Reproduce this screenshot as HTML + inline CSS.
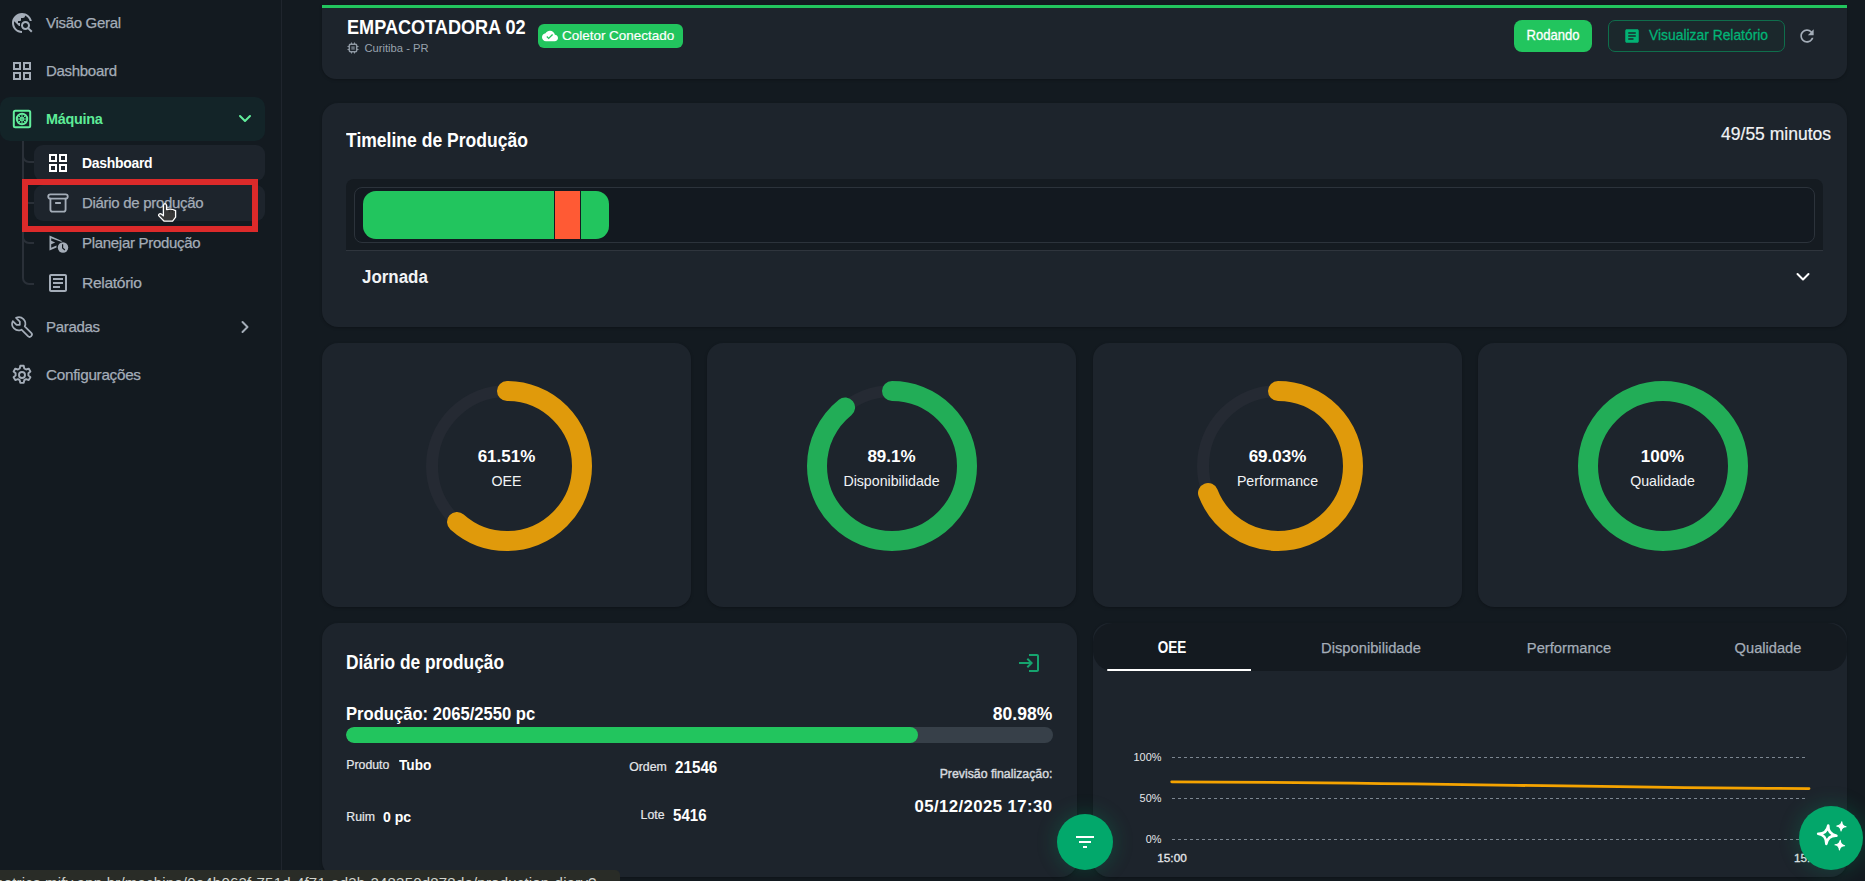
<!DOCTYPE html>
<html><head><meta charset="utf-8">
<style>
*{box-sizing:border-box;margin:0;padding:0}
html,body{width:1865px;height:881px;overflow:hidden;background:#131a20;font-family:"Liberation Sans",sans-serif;color:#e8eaed}
.abs{position:absolute}
.t{position:absolute;white-space:nowrap;line-height:1}
</style></head><body>
<div class="abs" style="left:0;top:0;width:281px;height:881px;background:#131a20"></div>
<div class="abs" style="left:281px;top:0;width:1px;height:881px;background:#1f252d"></div>
<svg class="abs" style="left:10px;top:11px" width="24" height="24" viewBox="0 0 24 24" fill="#a4adb8"><path d="M19.3 16.9c.4-.7.7-1.5.7-2.4 0-2.5-2-4.5-4.5-4.5S11 12 11 14.5s2 4.5 4.5 4.5c.9 0 1.7-.3 2.4-.7l3.2 3.2 1.4-1.4-3.2-3.2zm-3.8.1c-1.4 0-2.5-1.1-2.5-2.5s1.1-2.5 2.5-2.5 2.5 1.1 2.5 2.5-1.1 2.5-2.5 2.5zM12 20v2C6.48 22 2 17.52 2 12S6.48 2 12 2c4.84 0 8.87 3.44 9.8 8h-2.07c-.64-2.46-2.4-4.47-4.73-5.41V5c0 1.1-.9 2-2 2h-2v2c0 .55-.45 1-1 1H8v2h2v3H9l-4.79-4.79C4.08 10.79 4 11.38 4 12c0 4.41 3.59 8 8 8z"/></svg>
<div class="t" style="top:15.30px;font-size:15px;color:#a4adb8;font-weight:normal;left:46px;letter-spacing:-0.3px;-webkit-text-stroke:0.25px #a4adb8;">Visão Geral</div>
<svg class="abs" style="left:10px;top:59px" width="24" height="24" viewBox="0 0 24 24" fill="#a4adb8"><path d="M3 3v8h8V3H3zm6 6H5V5h4v4zm-6 4v8h8v-8H3zm6 6H5v-4h4v4zm4-16v8h8V3h-8zm6 6h-4V5h4v4zm-6 4v8h8v-8h-8zm6 6h-4v-4h4v4z"/></svg>
<div class="t" style="top:62.80px;font-size:15px;color:#a4adb8;font-weight:normal;left:46px;letter-spacing:-0.3px;-webkit-text-stroke:0.25px #a4adb8;">Dashboard</div>
<div class="abs" style="left:0;top:97px;width:265px;height:44px;background:#132428;border-radius:10px"></div>
<svg class="abs" style="left:12px;top:109px" width="20" height="20" viewBox="0 0 20 20" fill="none" stroke="#62ee9c"><rect x="1.8" y="1.8" width="16.4" height="16.4" rx="1.5" stroke-width="2"/><circle cx="10" cy="10" r="5.2" stroke-width="2"/><circle cx="10" cy="10" r="1.3" stroke-width="1.4"/><path d="M10 5.5v3M10 11.5v3M5.5 10h3M11.5 10h3M6.8 6.8l2 2M11.2 11.2l2 2M13.2 6.8l-2 2M8.8 11.2l-2 2" stroke-width="1"/></svg>
<div class="t" style="top:110.80px;font-size:15px;color:#5eec98;font-weight:bold;left:46px;transform:scaleX(0.96);transform-origin:left center;letter-spacing:-0.3px;">Máquina</div>
<svg class="abs" style="left:238px;top:113px" width="14" height="12" viewBox="0 0 14 12" fill="none" stroke="#62ee9c" stroke-width="2" stroke-linecap="round" stroke-linejoin="round"><path d="M2 3l5 5 5-5"/></svg>
<svg class="abs" style="left:0;top:141px" width="40" height="150" viewBox="0 0 40 150" fill="none" stroke="#2a3038" stroke-width="2"><path d="M23 0v137a6 6 0 0 0 6 6h5M23 15a6 6 0 0 0 6 6h5M23 56a6 6 0 0 0 6 6h5M23 96a6 6 0 0 0 6 6h5"/></svg>
<div class="abs" style="left:34px;top:145px;width:231px;height:36px;background:#1d242c;border-radius:9px"></div>
<svg class="abs" style="left:46px;top:151px" width="24" height="24" viewBox="0 0 24 24" fill="#fff"><path d="M3 3v8h8V3H3zm6 6H5V5h4v4zm-6 4v8h8v-8H3zm6 6H5v-4h4v4zm4-16v8h8V3h-8zm6 6h-4V5h4v4zm-6 4v8h8v-8h-8zm6 6h-4v-4h4v4z"/></svg>
<div class="t" style="top:154.80px;font-size:15px;color:#fff;font-weight:bold;left:82px;transform:scaleX(0.93);transform-origin:left center;letter-spacing:-0.3px;">Dashboard</div>
<div class="abs" style="left:34px;top:185px;width:231px;height:36px;background:#1d242c;border-radius:9px"></div>
<svg class="abs" style="left:45px;top:190px" width="26" height="26" viewBox="0 0 24 24" fill="none" stroke="#a4adb8" stroke-width="1.7" stroke-linecap="round" stroke-linejoin="round"><path d="M3 4m0 2a2 2 0 0 1 2 -2h14a2 2 0 0 1 2 2v0a2 2 0 0 1 -2 2h-14a2 2 0 0 1 -2 -2z"/><path d="M5 8v10a2 2 0 0 0 2 2h10a2 2 0 0 0 2 -2v-10"/><path d="M10 12l4 0"/></svg>
<div class="t" style="top:194.80px;font-size:15px;color:#a4adb8;font-weight:normal;left:82px;letter-spacing:-0.3px;-webkit-text-stroke:0.25px #a4adb8;">Diário de produção</div>
<svg class="abs" style="left:46px;top:231px" width="24" height="24" viewBox="0 0 24 24" fill="#a4adb8"><path d="M3.5 4.5 L16.5 10.2 L15 10.8 L5.2 7.2 V9.8 L9.2 11.5 L5.2 13.2 V16.8 L10.5 14.6 V16.4 L3.5 19.5Z"/><circle cx="17" cy="16.5" r="5.2"/><path d="M16.6 13.3v3.6l2.3 2.1" stroke="#131a20" stroke-width="1.2" fill="none"/></svg>
<div class="t" style="top:234.80px;font-size:15px;color:#a4adb8;font-weight:normal;left:82px;letter-spacing:-0.3px;-webkit-text-stroke:0.25px #a4adb8;">Planejar Produção</div>
<svg class="abs" style="left:46px;top:271px" width="24" height="24" viewBox="0 0 24 24" fill="#a4adb8"><path d="M19 5v14H5V5h14m0-2H5c-1.1 0-2 .9-2 2v14c0 1.1.9 2 2 2h14c1.1 0 2-.9 2-2V5c0-1.1-.9-2-2-2z M14 17H7v-2h7v2zm3-4H7v-2h10v2zm0-4H7V7h10v2z"/></svg>
<div class="t" style="top:274.80px;font-size:15px;color:#a4adb8;font-weight:normal;left:82px;transform:scaleX(1.04);transform-origin:left center;letter-spacing:-0.3px;-webkit-text-stroke:0.25px #a4adb8;">Relatório</div>
<svg class="abs" style="left:9px;top:314px" width="26" height="26" viewBox="0 0 24 24" fill="none" stroke="#a4adb8" stroke-width="1.6" stroke-linecap="round" stroke-linejoin="round"><path d="M7 10h3v-3l-3.5 -3.5a6 6 0 0 1 8 8l6 6a2 2 0 0 1 -3 3l-6 -6a6 6 0 0 1 -8 -8l3.5 3.5"/></svg>
<div class="t" style="top:318.80px;font-size:15px;color:#a4adb8;font-weight:normal;left:46px;letter-spacing:-0.3px;-webkit-text-stroke:0.25px #a4adb8;">Paradas</div>
<svg class="abs" style="left:239px;top:320px" width="12" height="14" viewBox="0 0 12 14" fill="none" stroke="#a4adb8" stroke-width="2" stroke-linecap="round" stroke-linejoin="round"><path d="M3.5 2l5 5-5 5"/></svg>
<svg class="abs" style="left:10px;top:363px" width="24" height="24" viewBox="0 0 24 24" fill="none" stroke="#a4adb8" stroke-width="1.9" stroke-linejoin="round"><path d="M10.3 2.8h3.4l.6 2.7 1.8 1 2.6-.9 1.7 2.9-2 1.8v2.1l2 1.8-1.7 2.9-2.6-.9-1.8 1-.6 2.7h-3.4l-.6-2.7-1.8-1-2.6.9-1.7-2.9 2-1.8v-2.1l-2-1.8 1.7-2.9 2.6.9 1.8-1z"/><circle cx="12" cy="12" r="3"/></svg>
<div class="t" style="top:366.80px;font-size:15px;color:#a4adb8;font-weight:normal;left:46px;transform:scaleX(1.02);transform-origin:left center;letter-spacing:-0.3px;-webkit-text-stroke:0.25px #a4adb8;">Configurações</div>
<div class="abs" style="left:22px;top:179px;width:236px;height:53px;border:6px solid #dc2a2a"></div>
<svg class="abs" style="left:150px;top:195px" width="35" height="35" viewBox="150 195 35 35"><path d="M163.4 205.2Q165 202 166.6 205.2L166.6 209.6Q171.5 208.3 175.6 210.6L175.6 217.2L172.6 221.2L164.2 221.2L158.6 215.6Q158.6 213.2 161.2 213.9L163.4 215.8Z" fill="#383838" stroke="#fff" stroke-width="1.3" stroke-linejoin="round"/><path d="M169.3 210v2.5M172.3 210.3v2.5" stroke="#222" stroke-width="0.8"/></svg>
<div class="abs" style="left:322px;top:5px;width:1525px;height:74px;background:#1d242c;border-radius:0 0 14px 14px;box-shadow:0 1px 3px rgba(0,0,0,.25);"></div>
<div class="abs" style="left:322px;top:5px;width:1525px;height:3px;background:#22c55e"></div>
<div class="t" style="top:16.87px;font-size:20px;color:#fff;font-weight:bold;left:346.5px;transform:scaleX(0.905);transform-origin:left center;">EMPACOTADORA 02</div>
<svg class="abs" style="left:345px;top:40px" width="16" height="16" viewBox="345 40 16 16" fill="none" stroke="#8e98a3"><rect x="349.3" y="44.3" width="7.4" height="7.4" rx="1.2" stroke-width="1.5"/><rect x="351.3" y="46.3" width="3.4" height="3.4" fill="#66707b" stroke="none"/><path d="M351.5 42.5v1.5M354.5 42.5v1.5M351.5 52v1.5M354.5 52v1.5M347.5 46.5h1.5M347.5 49.5h1.5M357 46.5h1.5M357 49.5h1.5" stroke-width="1"/></svg>
<div class="t" style="top:43.12px;font-size:11.2px;color:#98a2ad;font-weight:normal;left:364.5px;">Curitiba - PR</div>
<div class="abs" style="left:538px;top:24px;width:145px;height:24px;background:#22c55e;border-radius:6px"></div>
<svg class="abs" style="left:542px;top:28px" width="16" height="16" viewBox="0 0 24 24" fill="#fff"><path d="M19.35 10.04C18.67 6.59 15.64 4 12 4 9.11 4 6.6 5.64 5.35 8.04 2.34 8.36 0 10.91 0 14c0 3.31 2.69 6 6 6h13c2.76 0 5-2.24 5-5 0-2.64-2.05-4.78-4.65-4.96zM10 17l-3.5-3.5 1.41-1.41L10 14.17 15.18 9l1.41 1.41L10 17z"/></svg>
<div class="t" style="top:28.69px;font-size:13.6px;color:#fff;font-weight:normal;left:562px;transform:scaleX(0.99);transform-origin:left center;-webkit-text-stroke:0.2px #fff;">Coletor Conectado</div>
<div class="abs" style="left:1514px;top:20px;width:78px;height:32px;background:#22c55e;border-radius:8px"></div>
<div class="t" style="top:28.03px;font-size:14.5px;color:#fff;font-weight:normal;left:1553px;transform:translateX(-50%) scaleX(0.9);-webkit-text-stroke:0.3px #fff;">Rodando</div>
<div class="abs" style="left:1608px;top:20px;width:177px;height:32px;background:#1b282c;border:1px solid #0f6e4c;border-radius:7px"></div>
<svg class="abs" style="left:1623px;top:27px" width="18" height="18" viewBox="0 0 24 24" fill="#02b274"><path d="M19 3H5c-1.1 0-2 .9-2 2v14c0 1.1.9 2 2 2h14c1.1 0 2-.9 2-2V5c0-1.1-.9-2-2-2zm-5 14H7v-2h7v2zm3-4H7v-2h10v2zm0-4H7V7h10v2z"/></svg>
<div class="t" style="top:27.93px;font-size:14.5px;color:#02b476;font-weight:normal;left:1649.3px;transform:scaleX(0.955);transform-origin:left center;-webkit-text-stroke:0.3px #02b476;">Visualizar Relatório</div>
<svg class="abs" style="left:1797px;top:26px" width="20" height="20" viewBox="0 0 24 24" fill="#a4adb8"><path d="M17.65 6.35C16.2 4.9 14.21 4 12 4c-4.42 0-7.99 3.58-7.99 8s3.57 8 7.99 8c3.73 0 6.84-2.55 7.73-6h-2.08c-.82 2.33-3.04 4-5.65 4-3.31 0-6-2.69-6-6s2.69-6 6-6c1.66 0 3.14.69 4.22 1.78L13 11h7V4l-2.35 2.35z"/></svg>
<div class="abs" style="left:322px;top:103px;width:1525px;height:224px;background:#1d242c;border-radius:16px;box-shadow:0 1px 3px rgba(0,0,0,.25);"></div>
<div class="t" style="top:129.87px;font-size:20px;color:#fff;font-weight:bold;left:346.3px;transform:scaleX(0.877);transform-origin:left center;">Timeline de Produção</div>
<div class="t" style="top:125.99px;font-size:17.5px;color:#f1f3f5;font-weight:normal;right:34px;-webkit-text-stroke:0.2px #f1f3f5;">49/55 minutos</div>
<div class="abs" style="left:346px;top:179px;width:1477px;height:71px;background:#151b21;border-radius:8px 8px 0 0"></div>
<div class="abs" style="left:346px;top:250px;width:1477px;height:1px;background:#2f353d"></div>
<div class="abs" style="left:354px;top:187px;width:1461px;height:56px;background:#131920;border:1px solid #2c333b;border-radius:8px"></div>
<div class="abs" style="left:363px;top:191px;width:246px;height:48px;background:#22c55e;border-radius:13px;overflow:hidden"><div class="abs" style="left:191px;top:0;width:27px;height:48px;background:#ff5a34;border-left:1.5px solid #151b21;border-right:1.5px solid #151b21"></div></div>
<div class="t" style="top:267.76px;font-size:18px;color:#f1f3f5;font-weight:bold;left:362.2px;transform:scaleX(0.94);transform-origin:left center;">Jornada</div>
<svg class="abs" style="left:1794px;top:269px" width="18" height="16" viewBox="0 0 18 16" fill="none" stroke="#fff" stroke-width="2" stroke-linecap="round" stroke-linejoin="round"><path d="M3.5 5l5.5 5.5 5.5-5.5"/></svg>
<div class="abs" style="left:322px;top:343px;width:369px;height:264px;background:#1d242c;border-radius:16px;box-shadow:0 1px 3px rgba(0,0,0,.25);"></div>
<svg class="abs" style="left:406.5px;top:366px" width="200" height="200" viewBox="0 0 200 200"><circle cx="100" cy="100" r="75" fill="none" stroke="#252a33" stroke-width="12"/><circle cx="100" cy="100" r="75" fill="none" stroke="#e09a0b" stroke-width="20" stroke-linecap="round" stroke-dasharray="289.86 471.24" transform="rotate(-90 100 100)"/></svg>
<div class="t" style="top:447.51px;font-size:17px;color:#fff;font-weight:bold;left:506.5px;transform:translateX(-50%);">61.51%</div>
<div class="t" style="top:474.18px;font-size:14.2px;color:#f1f3f5;font-weight:normal;left:506.5px;transform:translateX(-50%);">OEE</div>
<div class="abs" style="left:707px;top:343px;width:369px;height:264px;background:#1d242c;border-radius:16px;box-shadow:0 1px 3px rgba(0,0,0,.25);"></div>
<svg class="abs" style="left:791.5px;top:366px" width="200" height="200" viewBox="0 0 200 200"><circle cx="100" cy="100" r="75" fill="none" stroke="#252a33" stroke-width="12"/><circle cx="100" cy="100" r="75" fill="none" stroke="#22ad57" stroke-width="20" stroke-linecap="round" stroke-dasharray="419.87 471.24" transform="rotate(-90 100 100)"/></svg>
<div class="t" style="top:447.51px;font-size:17px;color:#fff;font-weight:bold;left:891.5px;transform:translateX(-50%);">89.1%</div>
<div class="t" style="top:474.18px;font-size:14.2px;color:#f1f3f5;font-weight:normal;left:891.5px;transform:translateX(-50%);">Disponibilidade</div>
<div class="abs" style="left:1093px;top:343px;width:369px;height:264px;background:#1d242c;border-radius:16px;box-shadow:0 1px 3px rgba(0,0,0,.25);"></div>
<svg class="abs" style="left:1177.5px;top:366px" width="200" height="200" viewBox="0 0 200 200"><circle cx="100" cy="100" r="75" fill="none" stroke="#252a33" stroke-width="12"/><circle cx="100" cy="100" r="75" fill="none" stroke="#e09a0b" stroke-width="20" stroke-linecap="round" stroke-dasharray="325.30 471.24" transform="rotate(-90 100 100)"/></svg>
<div class="t" style="top:447.51px;font-size:17px;color:#fff;font-weight:bold;left:1277.5px;transform:translateX(-50%);">69.03%</div>
<div class="t" style="top:474.18px;font-size:14.2px;color:#f1f3f5;font-weight:normal;left:1277.5px;transform:translateX(-50%);">Performance</div>
<div class="abs" style="left:1478px;top:343px;width:369px;height:264px;background:#1d242c;border-radius:16px;box-shadow:0 1px 3px rgba(0,0,0,.25);"></div>
<svg class="abs" style="left:1562.5px;top:366px" width="200" height="200" viewBox="0 0 200 200"><circle cx="100" cy="100" r="75" fill="none" stroke="#252a33" stroke-width="12"/><circle cx="100" cy="100" r="75" fill="none" stroke="#22ad57" stroke-width="20" stroke-linecap="butt" stroke-dasharray="471.24 471.24" transform="rotate(-90 100 100)"/></svg>
<div class="t" style="top:447.51px;font-size:17px;color:#fff;font-weight:bold;left:1662.5px;transform:translateX(-50%);">100%</div>
<div class="t" style="top:474.18px;font-size:14.2px;color:#f1f3f5;font-weight:normal;left:1662.5px;transform:translateX(-50%);">Qualidade</div>
<div class="abs" style="left:322px;top:623px;width:755px;height:254px;background:#1d242c;border-radius:16px;box-shadow:0 1px 3px rgba(0,0,0,.25);"></div>
<div class="t" style="top:652.17px;font-size:20px;color:#fff;font-weight:bold;left:346.3px;transform:scaleX(0.867);transform-origin:left center;">Diário de produção</div>
<svg class="abs" style="left:1017px;top:651px" width="24" height="24" viewBox="0 0 24 24" fill="#16a36e"><path d="M11 7L9.6 8.4l2.6 2.6H2v2h10.2l-2.6 2.6L11 17l5-5-5-5zm9 12h-8v2h8c1.1 0 2-.9 2-2V5c0-1.1-.9-2-2-2h-8v2h8v14z"/></svg>
<div class="t" style="top:705.80px;font-size:17.6px;color:#fff;font-weight:bold;left:346.3px;transform:scaleX(0.944);transform-origin:left center;">Produção: 2065/2550 pc</div>
<div class="t" style="top:705.59px;font-size:17.5px;color:#fff;font-weight:bold;right:812.8px;">80.98%</div>
<div class="abs" style="left:346px;top:727px;width:707px;height:16px;background:#374049;border-radius:8px;overflow:hidden"><div style="width:572px;height:16px;background:#22c55e;border-radius:8px"></div></div>
<div class="t" style="top:758.99px;font-size:12.3px;color:#e5e7ea;font-weight:normal;left:346.3px;-webkit-text-stroke:0.2px #e5e7ea;">Produto</div>
<div class="t" style="top:757.30px;font-size:15px;color:#fff;font-weight:bold;left:399.2px;transform:scaleX(0.91);transform-origin:left center;">Tubo</div>
<div class="t" style="top:760.79px;font-size:12.3px;color:#e5e7ea;font-weight:normal;left:629.2px;-webkit-text-stroke:0.2px #e5e7ea;">Ordem</div>
<div class="t" style="top:758.80px;font-size:16.3px;color:#fff;font-weight:bold;left:674.6px;transform:scaleX(0.935);transform-origin:left center;">21546</div>
<div class="t" style="top:767.99px;font-size:12.3px;color:#d5d9de;font-weight:normal;right:812.5999999999999px;-webkit-text-stroke:0.45px #d5d9de;">Previsão finalização:</div>
<div class="t" style="top:810.79px;font-size:12.3px;color:#e5e7ea;font-weight:normal;left:346.3px;-webkit-text-stroke:0.2px #e5e7ea;">Ruim</div>
<div class="t" style="top:808.85px;font-size:15.3px;color:#fff;font-weight:bold;left:382.7px;transform:scaleX(0.92);transform-origin:left center;">0 pc</div>
<div class="t" style="top:808.89px;font-size:12.3px;color:#e5e7ea;font-weight:normal;left:640.6px;-webkit-text-stroke:0.2px #e5e7ea;">Lote</div>
<div class="t" style="top:806.60px;font-size:16.3px;color:#fff;font-weight:bold;left:672.8px;transform:scaleX(0.925);transform-origin:left center;">5416</div>
<div class="t" style="top:798.98px;font-size:16.8px;color:#fff;font-weight:bold;right:812.5px;letter-spacing:0.4px;">05/12/2025 17:30</div>
<div class="abs" style="left:1093px;top:623px;width:754px;height:254px;background:#1d242c;border-radius:16px;box-shadow:0 1px 3px rgba(0,0,0,.25);"></div>
<div class="abs" style="left:1093px;top:623px;width:754px;height:48px;background:#141a20;border-radius:20px"></div>
<div class="abs" style="left:1107px;top:668.5px;width:144px;height:2.5px;background:#fff;border-radius:2px 0 0 2px"></div>
<div class="t" style="top:638.53px;font-size:16.5px;color:#fff;font-weight:bold;left:1171.8px;transform:translateX(-50%) scaleX(0.82);">OEE</div>
<div class="t" style="top:639.63px;font-size:15.2px;color:#a4adb8;font-weight:normal;left:1370.6px;transform:translateX(-50%) scaleX(0.97);-webkit-text-stroke:0.25px #a4adb8;">Disponibilidade</div>
<div class="t" style="top:639.63px;font-size:15.2px;color:#a4adb8;font-weight:normal;left:1569.2px;transform:translateX(-50%) scaleX(0.97);-webkit-text-stroke:0.25px #a4adb8;">Performance</div>
<div class="t" style="top:639.63px;font-size:15.2px;color:#a4adb8;font-weight:normal;left:1767.6px;transform:translateX(-50%) scaleX(0.965);-webkit-text-stroke:0.25px #a4adb8;">Qualidade</div>
<svg class="abs" style="left:1160px;top:740px" width="660" height="110" viewBox="1160 740 660 110"><path d="M1172 757.5H1808M1172 798.5H1808M1172 839.5H1808" stroke="#7d8792" stroke-width="1.2" stroke-dasharray="3 3"/></svg>
<div class="t" style="top:751.97px;font-size:10.9px;color:#e5e7ea;font-weight:normal;right:703.5999999999999px;">100%</div>
<div class="t" style="top:792.77px;font-size:10.9px;color:#e5e7ea;font-weight:normal;right:703.5999999999999px;">50%</div>
<div class="t" style="top:833.87px;font-size:10.9px;color:#e5e7ea;font-weight:normal;right:703.5999999999999px;">0%</div>
<svg class="abs" style="left:1160px;top:770px" width="660" height="30" viewBox="1160 770 660 30"><path d="M1171.7 781.8 C1400 782, 1600 788, 1809 788.6" fill="none" stroke="#f5a300" stroke-width="2.8" stroke-linecap="round"/></svg>
<div class="t" style="top:852.81px;font-size:11.8px;color:#e5e7ea;font-weight:normal;left:1172px;transform:translateX(-50%);-webkit-text-stroke:0.3px #e5e7ea;">15:00</div>
<div class="t" style="top:852.81px;font-size:11.8px;color:#e5e7ea;font-weight:normal;left:1794px;-webkit-text-stroke:0.3px #e5e7ea;">15:00</div>
<div class="abs" style="left:1057px;top:814px;width:56px;height:56px;border-radius:50%;background:#02a86b;box-shadow:0 0 18px 4px rgba(2,168,107,.18)"></div>
<svg class="abs" style="left:1073px;top:830px" width="24" height="24" viewBox="0 0 24 24" fill="#fff"><path d="M10 18h4v-2h-4v2zM3 6v2h18V6H3zm3 7h12v-2H6v2z"/></svg>
<div class="abs" style="left:1799px;top:806px;width:64px;height:64px;border-radius:50%;background:#03a66a;box-shadow:0 0 18px 4px rgba(2,168,107,.18)"></div>
<svg class="abs" style="left:1800px;top:806px" width="64" height="64" viewBox="1800 806 64 64"><path d="M1827.3 825.5Q1827.8999999999999 834.1 1836.5 834.7Q1827.8999999999999 835.3000000000001 1827.3 843.9000000000001Q1826.7 835.3000000000001 1818.1 834.7Q1826.7 834.1 1827.3 825.5Z" fill="none" stroke="#fff" stroke-width="2.6" stroke-linejoin="round" transform="rotate(6 1827.3 834.7)"/><path d="M1841.4 821.6999999999999Q1841.9 825.9 1846.1000000000001 826.4Q1841.9 826.9 1841.4 831.1Q1840.9 826.9 1836.7 826.4Q1840.9 825.9 1841.4 821.6999999999999Z" fill="#fff" stroke="#fff" stroke-width="1" stroke-linejoin="round" transform="rotate(5 1841.4 826.4)"/><path d="M1839.8 840.3000000000001Q1840.3 844.7 1844.7 845.2Q1840.3 845.7 1839.8 850.1Q1839.3 845.7 1834.8999999999999 845.2Q1839.3 844.7 1839.8 840.3000000000001Z" fill="#fff" stroke="#fff" stroke-width="1" stroke-linejoin="round" transform="rotate(5 1839.8 845.2)"/></svg>
<div class="abs" style="left:0;top:870px;width:620px;height:11px;background:#292c27;border-radius:0 5px 0 0;overflow:hidden"><div class="t" style="left:-9px;top:4.6px;font-size:15px;letter-spacing:0.2px;color:#d0d3cc">metrics.mify.app.br/machine/0e4b062f-751d-4f71-ad3b-248350d878de/production-diary?</div></div>
</body></html>
